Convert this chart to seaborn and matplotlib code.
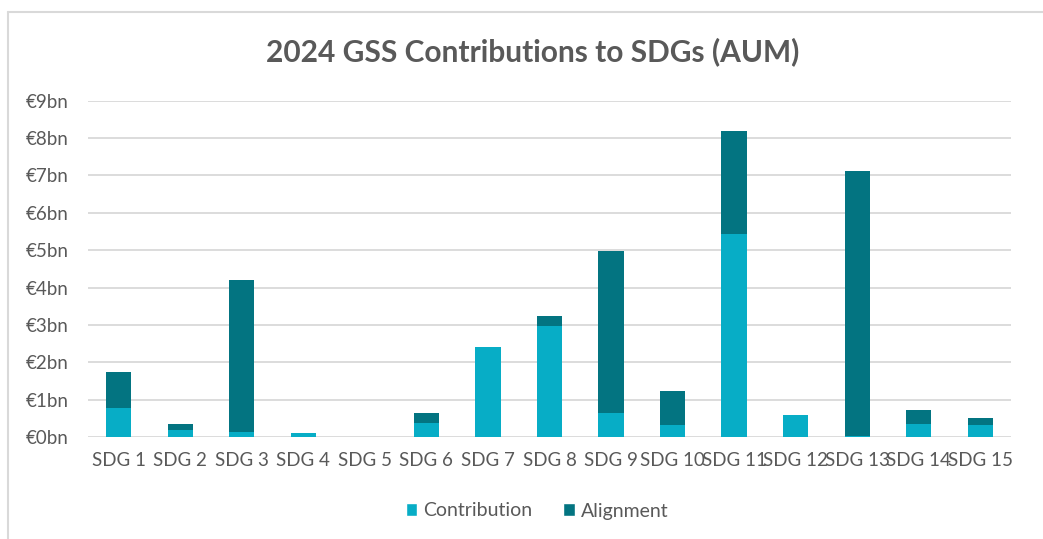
import numpy as np
import pandas as pd
import matplotlib
matplotlib.use("Agg")
import matplotlib.pyplot as plt
from matplotlib.patches import Patch
from matplotlib.lines import Line2D
import seaborn as sns

# values in EUR bn
categories = [f"SDG {i}" for i in range(1, 16)]
contribution = [0.77, 0.20, 0.13, 0.10, 0.0, 0.38, 2.41, 2.96, 0.65, 0.31, 5.43, 0.59, 0.03, 0.35, 0.31]
alignment = [0.97, 0.14, 4.08, 0.0, 0.0, 0.25, 0.0, 0.28, 4.32, 0.91, 2.75, 0.0, 7.09, 0.38, 0.21]
y_ticks = list(range(0, 10))

c_contrib = "#07ADC6"
c_align = "#037481"
text_col = "#595959"

sns.set_theme(style="white")
plt.rcParams["font.family"] = ["Lato", "DejaVu Sans"]

df = pd.DataFrame({"sdg": categories, "contribution": contribution, "alignment": alignment})
df["total"] = df["contribution"] + df["alignment"]

fig = plt.figure(figsize=(10.43, 5.39), dpi=100)
ax = fig.add_axes([88 / 1043, 1 - 437 / 539, (1011 - 88) / 1043, (437 - 100.7) / 539])

# stacked look: totals first, contribution drawn over the lower part
sns.barplot(data=df, x="sdg", y="total", color=c_align, width=0.41, saturation=1,
            linewidth=0, ax=ax)
sns.barplot(data=df, x="sdg", y="contribution", color=c_contrib, width=0.41, saturation=1,
            linewidth=0, ax=ax)

ax.set_ylim(0, 9)
ax.set_xlim(-0.5, len(categories) - 0.5)
ax.set_yticks(y_ticks)
ax.set_yticklabels([f"€{v}bn" for v in y_ticks])
ax.set_xlabel("")
ax.set_ylabel("")
ax.grid(axis="y", color="#D9D9D9", linewidth=1.3)
ax.set_axisbelow(True)
for s in ax.spines.values():
    s.set_visible(False)
ax.tick_params(axis="both", length=0, labelsize=13.5, colors=text_col)
ax.tick_params(axis="y", pad=14)
ax.tick_params(axis="x", pad=11)

fig.text(533 / 1043, 1 - 52 / 539, "2024 GSS Contributions to SDGs (AUM)", ha="center", va="center",
         fontsize=21.5, fontweight="bold", color=text_col)

handles = [Patch(facecolor=c_contrib, label="Contribution"), Patch(facecolor=c_align, label="Alignment")]
fig.legend(handles=handles, loc="center", bbox_to_anchor=(537 / 1043, 1 - 511 / 539), ncol=2,
           frameon=False, fontsize=14, labelcolor=text_col, handlelength=0.6, handleheight=0.6,
           handletextpad=0.3, columnspacing=1.6)

# chart area border (left and top edges visible)
fig.add_artist(Line2D([8 / 1043, 8 / 1043], [0, 1 - 12 / 539], transform=fig.transFigure, color="#D9D9D9", lw=1.5))
fig.add_artist(Line2D([8 / 1043, 1], [1 - 12 / 539, 1 - 12 / 539], transform=fig.transFigure, color="#D9D9D9", lw=1.5))

fig.savefig("out.png", dpi=100)
